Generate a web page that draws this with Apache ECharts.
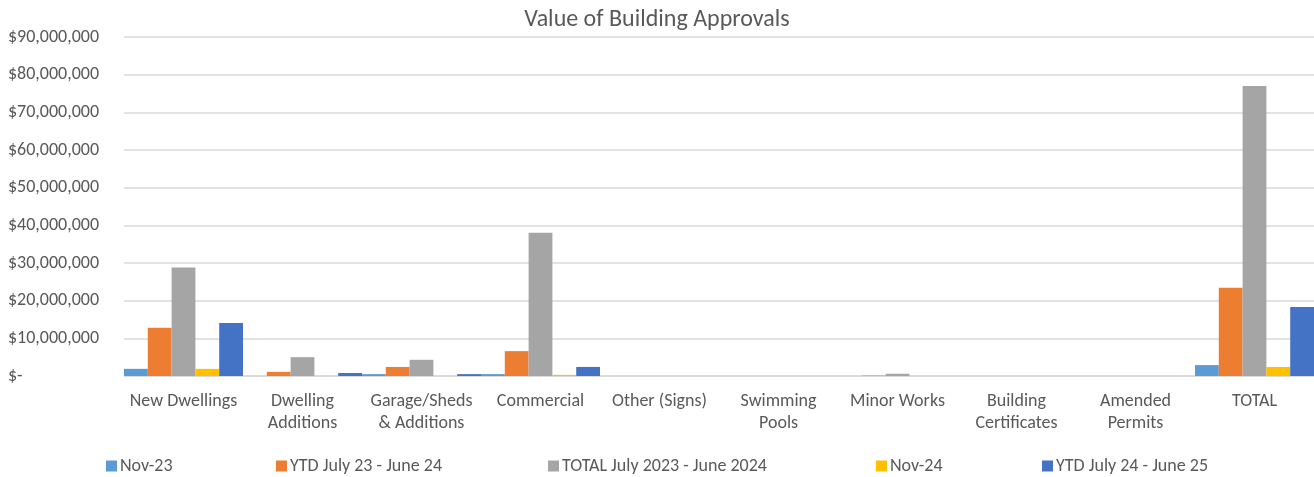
<!DOCTYPE html>
<html>
<head>
<meta charset="utf-8">
<script src="https://cdn.jsdelivr.net/npm/echarts@6/dist/echarts.min.js"></script>
<style>
  html, body { margin: 0; padding: 0; background: #fff; }
  #chart { width: 1314px; height: 477px; }
</style>
</head>
<body>
<div id="chart"></div>
<script>
var categories = ['New Dwellings', 'Dwelling\nAdditions', 'Garage/Sheds\n& Additions', 'Commercial',
  'Other (Signs)', 'Swimming\nPools', 'Minor Works', 'Building\nCertificates', 'Amended\nPermits', 'TOTAL'];

var seriesNames = ['Nov-23', 'YTD July 23 - June 24', 'TOTAL July 2023 - June 2024', 'Nov-24', 'YTD July 24 - June 25'];
var colors = ['#5B9BD5', '#ED7D31', '#A5A5A5', '#FFC000', '#4472C4'];

// values in dollars
var nov23    = [1900000, 0, 500000, 500000, 0, 0, 0, 0, 0, 2900000];
var ytd23    = [12800000, 1100000, 2400000, 6600000, 0, 0, 100000, 0, 0, 23400000];
var total23  = [28800000, 5000000, 4300000, 38000000, 0, 0, 600000, 0, 0, 77000000];
var nov24    = [1900000, 0, 0, 300000, 0, 0, 0, 0, 0, 2400000];
var ytd24    = [14100000, 800000, 500000, 2400000, 0, 0, 0, 0, 0, 18300000];

var values = [nov23, ytd23, total23, nov24, ytd24];
var legendLeft = [106, 276, 548, 876, 1042];

var font = 'Carlito, Calibri, "Open Sans", sans-serif';
var textColor = '#595959';

var chart = echarts.init(document.getElementById('chart'));

// one legend per entry so each sits where Excel put it
var legends = seriesNames.map(function (n, i) {
  return {
    data: [n],
    left: legendLeft[i],
    top: 457,
    padding: 0,
    itemWidth: 11,
    itemHeight: 11,
    icon: 'rect',
    textStyle: { color: textColor, fontSize: 18, fontFamily: font, padding: [0, 0, 0, -2] }
  };
});

chart.setOption({
  animation: false,
  title: {
    text: 'Value of Building Approvals',
    left: 'center',
    top: 3,
    textStyle: { color: textColor, fontSize: 24, fontWeight: 'normal', fontFamily: font }
  },
  legend: legends,
  grid: { left: 124, right: 0, top: 37, bottom: 101 },
  xAxis: {
    type: 'category',
    data: categories,
    axisLine: { lineStyle: { color: '#D9D9D9', width: 1.5 } },
    axisTick: { show: false },
    axisLabel: {
      color: textColor, fontSize: 18, fontFamily: font, lineHeight: 22, margin: 14, interval: 0
    }
  },
  yAxis: {
    type: 'value',
    min: 0,
    max: 90000000,
    interval: 10000000,
    axisLine: { show: false },
    axisTick: { show: false },
    splitLine: { lineStyle: { color: '#D9D9D9', width: 1.5 } },
    axisLabel: {
      color: textColor, fontSize: 18, fontFamily: font, align: 'left', margin: 116,
      formatter: function (v) {
        if (v === 0) return '$-';
        return '$' + v.toLocaleString('en-US');
      }
    }
  },
  series: seriesNames.map(function (n, i) {
    return {
      name: n,
      type: 'bar',
      data: values[i],
      itemStyle: { color: colors[i] },
      barGap: '0%',
      barCategoryGap: '0%'
    };
  })
});
</script>
</body>
</html>
